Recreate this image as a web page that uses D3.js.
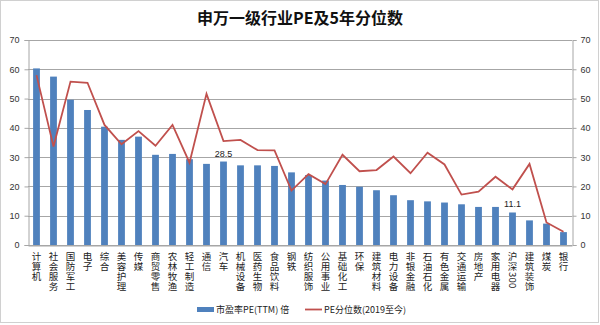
<!DOCTYPE html>
<html><head><meta charset="utf-8">
<script src="https://cdn.jsdelivr.net/npm/d3@7"></script>
<style>body{margin:0;background:#fff}svg{display:block}text{font-family:"Noto Sans CJK SC","Noto Sans",sans-serif}</style>
</head><body><svg id="c" width="600" height="325"></svg>
<script>
const categories = ["计算机","社会服务","国防军工","电子","综合","美容护理","传媒","商贸零售","农林牧渔","轻工制造","通信","汽车","机械设备","医药生物","食品饮料","钢铁","纺织服饰","公用事业","基础化工","环保","建筑材料","电力设备","非银金融","石油石化","有色金属","交通运输","房地产","家用电器","沪深300","建筑装饰","煤炭","银行"];
const peValues = [60.3,57.5,49.6,46.1,40.4,35.9,37.0,30.8,31.1,29.3,27.7,28.5,27.2,27.2,27.0,24.8,23.9,22.0,20.5,19.9,18.7,17.0,15.3,14.9,14.5,13.9,13.0,13.0,11.1,8.4,7.3,4.4];
const pctValues = [58.0,33.6,55.8,55.4,41.0,34.4,38.9,33.9,41.0,28.1,51.6,35.5,35.9,32.4,32.3,18.6,24.2,20.8,30.8,25.2,25.6,30.2,24.5,31.5,27.5,17.2,18.2,23.3,19.0,27.7,7.7,4.5];
const yTicks = [0,10,20,30,40,50,60,70];
const labeled = {"汽车":"28.5","沪深300":"11.1"};
const title = "申万一级行业PE及5年分位数";
const legendBar = "市盈率PE(TTM) 倍";
const legendLine = "PE分位数(2019至今)";

const svg = d3.select("#c");
const L = 28, R = 572, T = 40, B = 245;
svg.append("rect").attr("x",0.5).attr("y",0.5).attr("width",598).attr("height",322).attr("fill","#fff").attr("stroke","#d0d0d0");
const x = d3.scaleBand().domain(categories).range([L,R]).paddingInner(0.6).paddingOuter(0.3);
const y = d3.scaleLinear().domain([0,70]).range([B,T]);
const xc = d => x(d) + x.bandwidth()/2;

// grid
svg.append("g").selectAll("line").data(yTicks).join("line")
  .attr("x1",L).attr("x2",R).attr("y1",d=>Math.round(y(d))+0.5).attr("y2",d=>Math.round(y(d))+0.5)
  .attr("stroke","#a6a6a6").attr("stroke-width",1);

const ga = svg.append("g").attr("transform",`translate(${L+0.5},0)`).call(d3.axisLeft(y).tickValues(yTicks).tickSize(4).tickPadding(5));
const gb = svg.append("g").attr("transform",`translate(${R+0.5},0)`).call(d3.axisRight(y).tickValues(yTicks).tickSize(4).tickPadding(4));
[ga,gb].forEach(g=>{g.select(".domain").attr("stroke","#a6a6a6");g.selectAll(".tick line").attr("stroke","#a6a6a6");g.selectAll("text").attr("font-size",9).attr("fill","#333").style("font-family","Liberation Sans, Arial, sans-serif");});
svg.append("g").attr("transform",`translate(0,${B+0.5})`).call(d3.axisBottom(x).tickSize(0).tickFormat(""))
  .select(".domain").attr("stroke","#a6a6a6");

// bars
svg.append("g").selectAll("rect").data(categories).join("rect")
  .attr("x",d=>x(d)).attr("width",x.bandwidth())
  .attr("y",(d,i)=>y(peValues[i])).attr("height",(d,i)=>B-y(peValues[i]))
  .attr("fill","#4f81bd");

// line
const line = d3.line().x((d,i)=>xc(categories[i])).y(d=>y(d));
svg.append("path").datum(pctValues).attr("d",line).attr("fill","none").attr("stroke","#c0504d").attr("stroke-width",1.8);

// data labels
categories.forEach((c,i)=>{ if(labeled[c]) svg.append("text").attr("x",xc(c)).attr("y",y(peValues[i])-5).attr("text-anchor","middle").attr("font-size",9).attr("fill","#222").style("font-family","Liberation Sans, Arial, sans-serif").text(labeled[c]); });

// x labels stacked vertically (one text element per label)
const fs = 9.5, step = 9.8, labelTop = 252;
const lg = svg.append("g");
categories.forEach(c=>{
  const t = lg.append("text").attr("font-size",fs).attr("fill","#222");
  const cx = xc(c);
  let yy = labelTop;
  [...c].forEach(ch=>{
    if(/[0-9A-Za-z]/.test(ch)){
      t.append("tspan").attr("x",cx - fs*0.36).attr("y",yy+0.5).attr("rotate",90).attr("text-anchor","start").text(ch);
      yy += 5.4;
    } else {
      t.append("tspan").attr("x",cx).attr("y",yy+fs*0.88).attr("text-anchor","middle").text(ch);
      yy += step;
    }
  });
});

// title
svg.append("text").attr("x",300).attr("y",24).attr("text-anchor","middle").attr("font-size",16).attr("font-weight","bold").attr("fill","#111").text(title);

// legend
svg.append("rect").attr("x",197).attr("y",307).attr("width",17).attr("height",5).attr("fill","#4f81bd");
svg.append("text").attr("x",216).attr("y",313).attr("font-size",9).attr("fill","#222").text(legendBar);
svg.append("line").attr("x1",305).attr("x2",322).attr("y1",309.5).attr("y2",309.5).attr("stroke","#c0504d").attr("stroke-width",1.8);
svg.append("text").attr("x",324).attr("y",313).attr("font-size",9).attr("fill","#222").text(legendLine);
</script></body></html>
